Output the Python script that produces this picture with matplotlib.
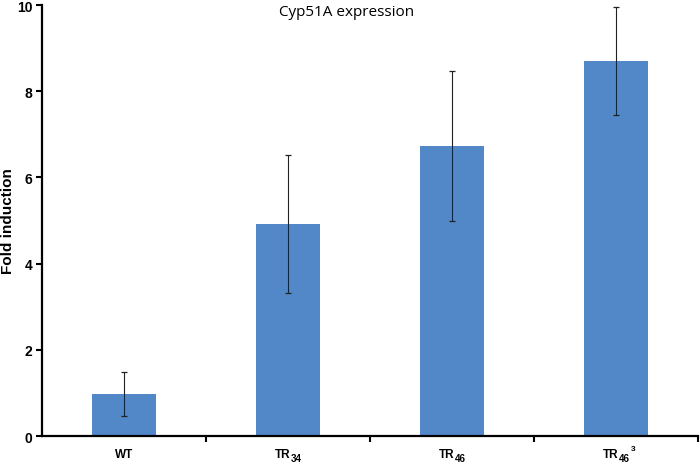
import matplotlib
matplotlib.use("Agg")
import matplotlib.pyplot as plt
import matplotlib.transforms as mtransforms
import numpy as np

categories = ["WT", "TR", "TR", "TR"]
cat_sub = ["", "34", "46", "46"]
cat_sup = ["", "", "", "3"]
values = [0.98, 4.93, 6.73, 8.70]
errors = [0.51, 1.60, 1.73, 1.25]

plt.rcParams['font.family'] = ['Liberation Sans', 'DejaVu Sans']

fig = plt.figure(figsize=(7, 4.64), dpi=100)
ax = fig.add_axes([0.06, 0.058, 0.937, 0.929])

x = np.arange(len(categories))
ax.bar(x, values, width=0.39, color='#5388c8', zorder=2)
ax.errorbar(x, values, yerr=errors, fmt='none', ecolor='#222222',
            elinewidth=0.8, capsize=2.5, capthick=0.9, zorder=3)

ax.set_xlim(-0.5, 3.5)
ax.set_ylim(0, 10)
ax.set_yticks(np.arange(0, 11, 2))
ax.set_xticks(x)
ax.set_xticklabels([""] * len(categories))
ax.set_xticks([0.5, 1.5, 2.5, 3.5], minor=True)
ax.tick_params(axis='x', which='major', length=0)
ax.tick_params(axis='x', which='minor', length=4, width=1.5, direction='out')
ax.tick_params(axis='y', length=4, width=1.5, direction='out', labelsize=10, pad=3)
for lbl in ax.get_yticklabels():
    lbl.set_fontweight('bold')

# category labels built from base, subscript and superscript parts
trans = mtransforms.blended_transform_factory(ax.transData, ax.transAxes)
for xi, base, sub, sup in zip(x, categories, cat_sub, cat_sup):
    if not sub:
        ax.annotate(base, xy=(xi, 0), xycoords=trans, xytext=(0, -13),
                    textcoords='offset points', ha='center', va='center',
                    fontsize=8.5, fontweight='bold', annotation_clip=False)
        continue
    ax.annotate(base, xy=(xi, 0), xycoords=trans, xytext=(2, -13),
                textcoords='offset points', ha='right', va='center',
                fontsize=8.5, fontweight='bold', annotation_clip=False)
    ax.annotate(sub, xy=(xi, 0), xycoords=trans, xytext=(2.3, -16),
                textcoords='offset points', ha='left', va='center',
                fontsize=7, fontweight='bold', annotation_clip=False)
    if sup:
        ax.annotate(sup, xy=(xi, 0), xycoords=trans, xytext=(10.5, -9),
                    textcoords='offset points', ha='left', va='center',
                    fontsize=6, fontweight='bold', annotation_clip=False)

for s in ['top', 'right']:
    ax.spines[s].set_visible(False)
for s in ['left', 'bottom']:
    ax.spines[s].set_linewidth(1.6)
    ax.spines[s].set_color('black')

ax.set_ylabel("Fold induction", fontsize=11, fontweight='bold')
ax.yaxis.label.set_va('center')
ax.yaxis.set_label_coords(-0.052, 0.5)
ax.text(0.464, 0.985, "Cyp51A expression", transform=ax.transAxes,
        ha='center', va='center', fontsize=11, family=['Open Sans', 'DejaVu Sans'])

fig.savefig("out.png", dpi=100)
